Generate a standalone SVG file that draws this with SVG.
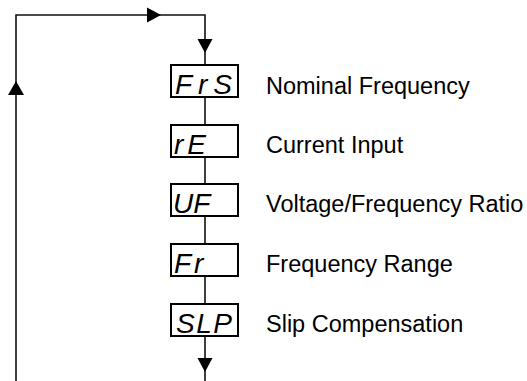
<svg xmlns="http://www.w3.org/2000/svg" width="527" height="381" viewBox="0 0 527 381">
<style>
.line{fill:none;stroke:#111;stroke-width:1.6}
.arr{fill:#000;stroke:none}
.box{fill:#fff;stroke:#000;stroke-width:2}
.seg{font-family:"Liberation Sans",Arial,sans-serif;font-style:italic;font-size:28px;fill:#000}
.lbl{font-family:"Liberation Sans",Arial,sans-serif;font-size:23.5px;fill:#000}
</style>
<rect width="527" height="381" fill="#fff"/>
<g id="connectors">
<path class="line" d="M16 381 V15 H205 V65"/>
<path class="line" d="M205 97 V125 M205 157 V184 M205 216 V244 M205 276 V304 M205 336 V381"/>
<polygon class="arr" points="16,81 8,95 24,95"/>
<polygon class="arr" points="161,15 147,7.5 147,22.5"/>
<polygon class="arr" points="205,53 197.5,39 212.5,39"/>
<polygon class="arr" points="205,372 197.5,358 212.5,358"/>
</g>
<g id="n1"><rect class="box" x="171" y="65" width="67" height="32"/><text class="seg" x="175" y="94" textLength="57" lengthAdjust="spacing">FrS</text><text class="lbl" x="266" y="94">Nominal Frequency</text></g>
<g id="n2"><rect class="box" x="171" y="125" width="67" height="32"/><text class="seg" x="174" y="154" textLength="32" lengthAdjust="spacing">rE</text><text class="lbl" x="266" y="153">Current Input</text></g>
<g id="n3"><rect class="box" x="171" y="184" width="67" height="32"/><text class="seg" x="173" y="213">UF</text><text class="lbl" x="266" y="212">Voltage/Frequency Ratio</text></g>
<g id="n4"><rect class="box" x="171" y="244" width="67" height="32"/><text class="seg" x="174" y="273" letter-spacing="3">Fr</text><text class="lbl" x="266" y="272">Frequency Range</text></g>
<g id="n5"><rect class="box" x="171" y="304" width="67" height="32"/><text class="seg" x="176" y="333" textLength="56" lengthAdjust="spacing">SLP</text><text class="lbl" x="266" y="332">Slip Compensation</text></g>
</svg>
